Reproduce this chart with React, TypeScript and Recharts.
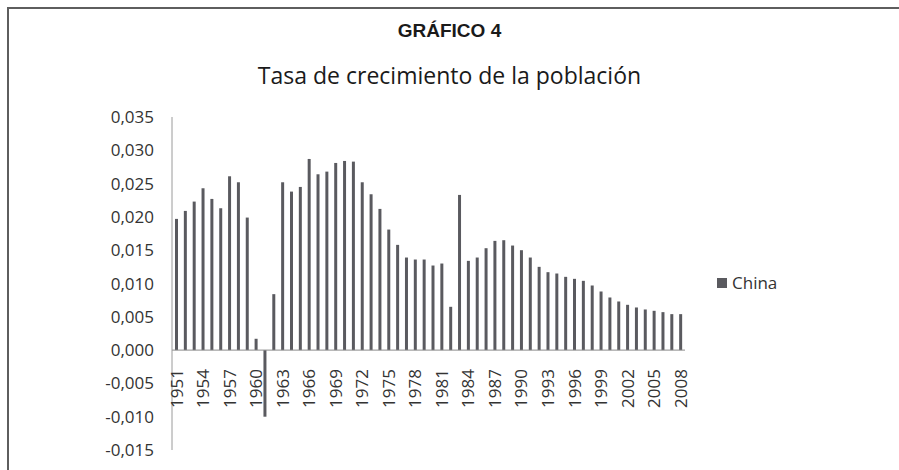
import { BarChart, Bar, XAxis, YAxis, ReferenceLine, Legend } from "recharts";

const years = [
  1951, 1952, 1953, 1954, 1955, 1956, 1957, 1958, 1959, 1960,
  1961, 1962, 1963, 1964, 1965, 1966, 1967, 1968, 1969, 1970,
  1971, 1972, 1973, 1974, 1975, 1976, 1977, 1978, 1979, 1980,
  1981, 1982, 1983, 1984, 1985, 1986, 1987, 1988, 1989, 1990,
  1991, 1992, 1993, 1994, 1995, 1996, 1997, 1998, 1999, 2000,
  2001, 2002, 2003, 2004, 2005, 2006, 2007, 2008,
];

const china = [
  0.0197, 0.0209, 0.0223, 0.0243, 0.0227, 0.0213, 0.0261, 0.0252, 0.0199, 0.0017,
  -0.01, 0.0084, 0.0252, 0.0238, 0.0245, 0.0287, 0.0264, 0.0268, 0.0281, 0.0284,
  0.0283, 0.0252, 0.0234, 0.0212, 0.0181, 0.0158, 0.0139, 0.0136, 0.0136, 0.0127,
  0.013, 0.0065, 0.0233, 0.0134, 0.0139, 0.0153, 0.0164, 0.0165, 0.0157, 0.015,
  0.0139, 0.0125, 0.0117, 0.0115, 0.011, 0.0107, 0.0104, 0.0097, 0.0088, 0.0079,
  0.0073, 0.0068, 0.0064, 0.0061, 0.0059, 0.0057, 0.0054, 0.0054,
];

const yTicks = [-0.015, -0.01, -0.005, 0, 0.005, 0.01, 0.015, 0.02, 0.025, 0.03, 0.035];

const data = years.map((y, i) => ({ year: y, China: china[i] }));

const W = 899;
const H = 470;
const PLOT_TOP = 117;
const X_AXIS_H = 20;
const Y_MIN = -0.015;
const Y_MAX = 0.035;
const PLOT_H = H - PLOT_TOP - X_AXIS_H;
const ZERO_Y = PLOT_TOP + (PLOT_H * Y_MAX) / (Y_MAX - Y_MIN);

const BAR_COLOR = "#5a5a5f";
const FONT = "'Open Sans', sans-serif";

const fmt = (v: number) => v.toFixed(3).replace(".", ",");

// year labels sit just under the zero line, like the original
const YearTick = (props: any) => {
  const { x, payload } = props;
  const ty = ZERO_Y + 19;
  return (
    <text
      x={x}
      y={ty}
      dy="0.36em"
      transform={`rotate(-90, ${x}, ${ty})`}
      textAnchor="end"
      fontSize={17}
      fontFamily={FONT}
      fill="#333"
    >
      {payload.value}
    </text>
  );
};

const renderLegend = () => (
  <div style={{ display: "flex", alignItems: "center", fontFamily: FONT }}>
    <span
      style={{ width: 10, height: 10, background: BAR_COLOR, display: "inline-block", marginRight: 5 }}
    />
    <span style={{ fontSize: 17, color: "#333", lineHeight: "20px" }}>China</span>
  </div>
);

export default function App() {
  return (
    <div
      style={{
        position: "absolute",
        left: 0,
        top: 0,
        width: W,
        height: H,
        background: "#fff",
        overflow: "hidden",
      }}
    >
      <div
        style={{
          position: "absolute",
          left: 7,
          top: 7,
          width: W - 7,
          height: H - 7,
          borderTop: "2px solid #5e5e5e",
          borderLeft: "2px solid #5e5e5e",
          boxSizing: "border-box",
        }}
      />
      <div
        style={{
          position: "absolute",
          top: 20,
          left: 0,
          width: W,
          textAlign: "center",
          fontFamily: "'Liberation Sans', Arial, sans-serif",
          fontWeight: "bold",
          fontSize: 19,
          lineHeight: "22px",
          color: "#1a1a1a",
        }}
      >
        GRÁFICO 4
      </div>
      <div
        style={{
          position: "absolute",
          top: 60,
          left: 0,
          width: W,
          textAlign: "center",
          fontFamily: FONT,
          fontSize: 23,
          fontWeight: 500,
          lineHeight: "30px",
          color: "#1a1a1a",
        }}
      >
        Tasa de crecimiento de la población
      </div>
      <BarChart
        width={W}
        height={H}
        data={data}
        margin={{ top: PLOT_TOP, right: 214, bottom: 0, left: 0 }}
        style={{ position: "absolute", left: 0, top: 0 }}
      >
        <XAxis
          dataKey="year"
          height={X_AXIS_H}
          interval={2}
          axisLine={false}
          tickLine={false}
          tick={<YearTick />}
        />
        <YAxis
          width={172}
          domain={[Y_MIN, Y_MAX]}
          ticks={yTicks}
          tickFormatter={fmt}
          tickLine={false}
          tickSize={0}
          tickMargin={18}
          axisLine={{ stroke: "#9a9a9a" }}
          tick={{ fontSize: 17, fontFamily: FONT, fill: "#333" }}
          allowDataOverflow
        />
        <ReferenceLine y={0} stroke="#8a8a8a" />
        <Bar dataKey="China" fill={BAR_COLOR} barSize={3} isAnimationActive={false} />
        <Legend
          layout="vertical"
          align="center"
          verticalAlign="middle"
          content={renderLegend}
          wrapperStyle={{ left: 717, top: 273, width: 90 }}
        />
      </BarChart>
    </div>
  );
}
